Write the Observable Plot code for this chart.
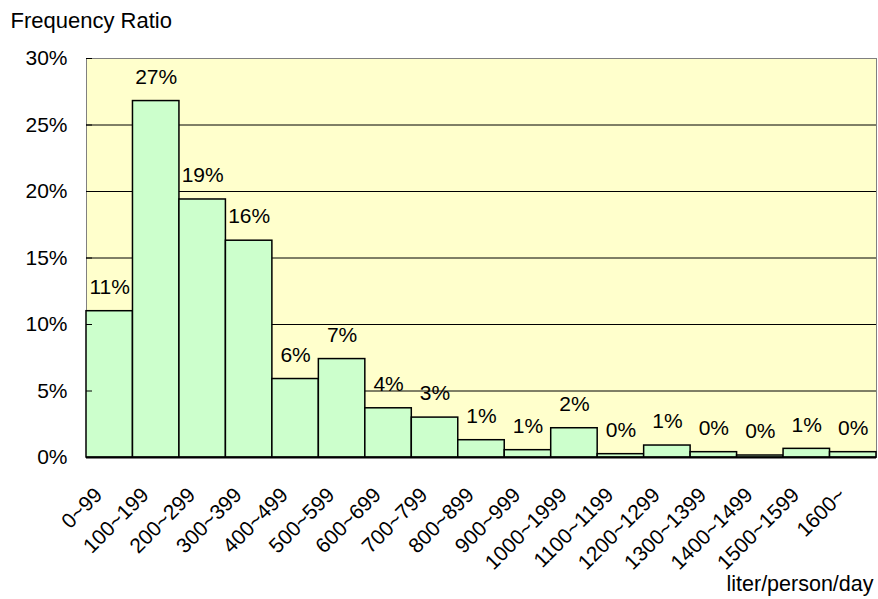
<!DOCTYPE html>
<html>
<head>
<meta charset="utf-8">
<script src="https://cdn.jsdelivr.net/npm/d3@7"></script>
<script src="https://cdn.jsdelivr.net/npm/@observablehq/plot@0.6"></script>
<style>
  html, body { margin: 0; padding: 0; background: #fff; }
</style>
</head>
<body>
<div id="chart"></div>
<script>
// Daily water use per person, grouped in 100-litre bands
const categories = [
  "0~99", "100~199", "200~299", "300~399", "400~499", "500~599",
  "600~699", "700~799", "800~899", "900~999", "1000~1999", "1100~1199",
  "1200~1299", "1300~1399", "1400~1499", "1500~1599", "1600~"
];
// Share of respondents in each band (%)
const ratios = [
  11.0, 26.8, 19.4, 16.3, 5.9, 7.4,
  3.7, 3.0, 1.3, 0.55, 2.2, 0.25,
  0.9, 0.4, 0.15, 0.65, 0.4
];
const yTicks = [0, 5, 10, 15, 20, 25, 30];
const gridLines = [5, 10, 15, 20, 25];
const yTitle = "Frequency Ratio";
const xTitle = "liter/person/day";

const data = categories.map((c, i) => ({band: c, ratio: ratios[i]}));
const font = "'Liberation Sans', Arial, sans-serif";

const chart = Plot.plot({
  width: 878,
  height: 599,
  marginTop: 58,
  marginLeft: 86,
  marginRight: 2,
  marginBottom: 142,
  style: {fontFamily: font, fontSize: "21px", color: "black", background: "white"},
  x: {type: "band", domain: categories, padding: 0, round: false, label: null},
  y: {domain: [0, 30], label: null},
  marks: [
    Plot.frame({fill: "#FFFFCC", stroke: "#808080"}),
    Plot.ruleY(gridLines, {stroke: "black", strokeWidth: 1}),
    Plot.barY(data, {x: "band", y: "ratio", fill: "#CCFFCC", stroke: "black", strokeWidth: 1.5}),
    Plot.ruleY([0], {stroke: "black", strokeWidth: 2}),
    // short inward tick marks on the value axis
    Plot.axisY(yTicks, {tickSize: 6, dx: 6, text: null, stroke: "black", label: null}),
    Plot.axisY(yTicks, {tickSize: 0, tickPadding: 19, tickFormat: d => d + "%", fontSize: 21, label: null}),
    Plot.axisX({tickRotate: -45, tickSize: 0, tickPadding: 34, dx: -11, fontSize: 21, label: null}),
    Plot.text(data, {
      x: "band", y: "ratio",
      text: d => Math.round(d.ratio) + "%",
      dy: -24, fontSize: 21
    }),
    Plot.text([yTitle], {frameAnchor: "top-left", textAnchor: "start", lineAnchor: "middle", dx: -76, dy: -38, fontSize: 22}),
    Plot.text([xTitle], {frameAnchor: "bottom-right", textAnchor: "end", lineAnchor: "middle", dx: -3, dy: 127, fontSize: 21.5})
  ]
});

document.getElementById("chart").appendChild(chart);
</script>
</body>
</html>
